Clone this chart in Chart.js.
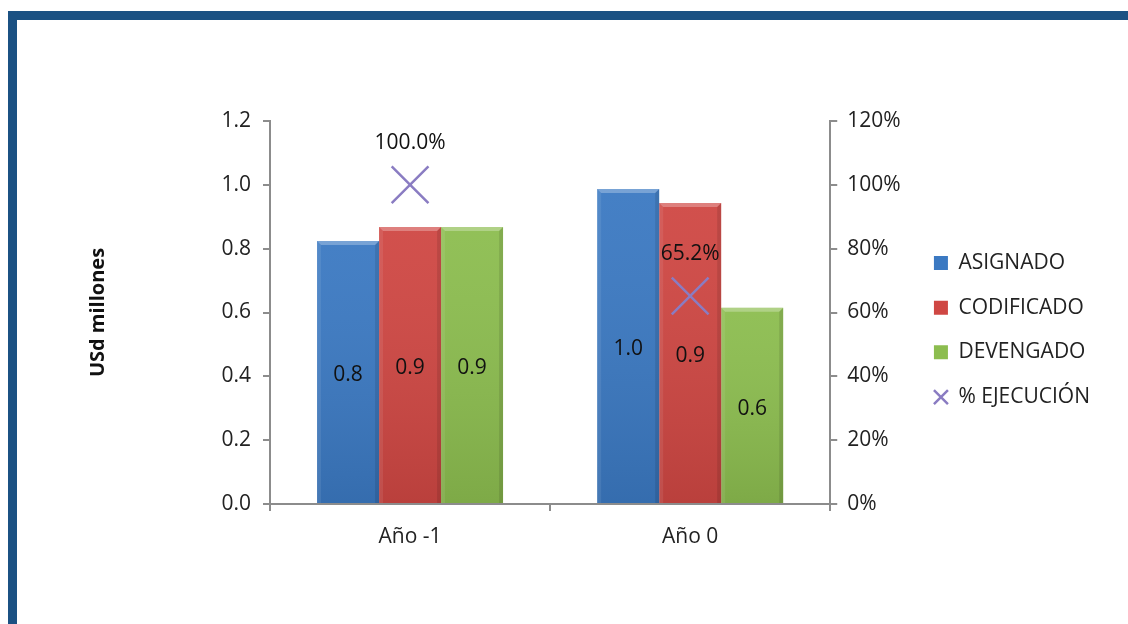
<!DOCTYPE html>
<html>
<head>
<meta charset="utf-8">
<script src="https://cdn.jsdelivr.net/npm/chart.js@4/dist/chart.umd.min.js"></script>
<style>
  html, body { margin: 0; padding: 0; background: #fff; }
  #wrap { position: relative; width: 1128px; height: 624px; overflow: hidden; }
  #frame { position: absolute; left: 8px; top: 11px; width: 1200px; height: 700px;
           border-top: 9px solid #1b5183; border-left: 9px solid #1b5183; }
  #chart0 { position: absolute; left: 0; top: 0; }
</style>
</head>
<body>
<div id="wrap">
  <div id="frame"></div>
  <canvas id="chart0" width="1128" height="624"></canvas>
</div>
<script>
// datos del gráfico
const categorias = ['Año -1', 'Año 0'];
const asignado   = [0.824, 0.987];
const codificado = [0.868, 0.943];
const devengado  = [0.868, 0.615];
const ejecucion  = [1.000, 0.652];   // devengado / codificado
const nombres    = ['ASIGNADO', 'CODIFICADO', 'DEVENGADO', '% EJECUCIÓN'];
const ticksIzq   = [0, 0.2, 0.4, 0.6, 0.8, 1.0, 1.2];

const FUENTE = '"Open Sans", "Liberation Sans", sans-serif';
const TAM = 21;
const GRIS = '#8c8c8c';
const TEXTO = '#222222';

// sombreado tipo bisel sobre cada barra
const bisel = {
  id: 'bisel',
  afterDatasetDraw(chart, args) {
    const meta = args.meta;
    if (meta.type !== 'bar') return;
    const ctx = chart.ctx;
    meta.data.forEach(bar => {
      const { x, y, base, width } = bar.getProps(['x', 'y', 'base', 'width'], true);
      const l = x - width / 2, r = x + width / 2, t = y, b = base, d = 4;
      ctx.save();
      let g = ctx.createLinearGradient(0, t, 0, b);
      g.addColorStop(0, 'rgba(255,255,255,0.05)');
      g.addColorStop(1, 'rgba(0,0,0,0.10)');
      ctx.fillStyle = g;
      ctx.fillRect(l, t, width, b - t);
      // borde superior claro
      ctx.fillStyle = 'rgba(255,255,255,0.28)';
      ctx.beginPath();
      ctx.moveTo(l, t); ctx.lineTo(r, t); ctx.lineTo(r - d, t + d); ctx.lineTo(l + d, t + d);
      ctx.closePath(); ctx.fill();
      // lado izquierdo
      ctx.fillStyle = 'rgba(255,255,255,0.08)';
      ctx.beginPath();
      ctx.moveTo(l, t); ctx.lineTo(l + d, t + d); ctx.lineTo(l + d, b); ctx.lineTo(l, b);
      ctx.closePath(); ctx.fill();
      // lado derecho oscuro
      ctx.fillStyle = 'rgba(0,0,0,0.10)';
      ctx.beginPath();
      ctx.moveTo(r, t); ctx.lineTo(r, b); ctx.lineTo(r - d, b); ctx.lineTo(r - d, t + d);
      ctx.closePath(); ctx.fill();
      ctx.restore();
    });
  }
};

// etiquetas de valores
const etiquetas = {
  id: 'etiquetas',
  afterDatasetsDraw(chart) {
    const ctx = chart.ctx;
    ctx.save();
    ctx.font = TAM + 'px ' + FUENTE;
    ctx.fillStyle = '#111';
    ctx.textAlign = 'center';
    ctx.textBaseline = 'middle';
    chart.data.datasets.forEach((ds, i) => {
      const meta = chart.getDatasetMeta(i);
      meta.data.forEach((el, j) => {
        const v = ds.data[j];
        if (meta.type === 'bar') {
          const { x, y, base } = el.getProps(['x', 'y', 'base'], true);
          ctx.fillText(v.toFixed(1), x, (y + base) / 2 + 3.5);
        } else {
          const { x, y } = el.getProps(['x', 'y'], true);
          ctx.fillText((v * 100).toFixed(1) + '%', x, y - 42);
        }
      });
    });
    ctx.restore();
  }
};

function barras(label, data, color) {
  return {
    label: label,
    data: data,
    backgroundColor: color,
    borderWidth: 0,
    pointStyle: 'rect',
    categoryPercentage: 0.664,
    barPercentage: 1.0,
    yAxisID: 'y',
    order: 1
  };
}

const ctx = document.getElementById('chart0').getContext('2d');
window.myChart = new Chart(ctx, {
  type: 'bar',
  data: {
    labels: categorias,
    datasets: [
      barras(nombres[0], asignado, '#3b79c2'),
      barras(nombres[1], codificado, '#cf4743'),
      barras(nombres[2], devengado, '#8cbd4f'),
      {
        type: 'line',
        label: nombres[3],
        data: ejecucion,
        yAxisID: 'y1',
        showLine: false,
        pointStyle: 'crossRot',
        pointRadius: 26,
        pointHoverRadius: 26,
        borderColor: '#8a7cc2',
        backgroundColor: 'transparent',
        borderWidth: 2.5,
        pointBorderWidth: 2.5,
        order: 0
      }
    ]
  },
  options: {
    responsive: false,
    animation: false,
    devicePixelRatio: 1,
    layout: { padding: { left: 82, top: 121, right: 28, bottom: 60 } },
    plugins: {
      tooltip: { enabled: false },
      legend: {
        position: 'right',
        align: 'center',
        fullSize: false,
        maxWidth: 220,
        // título vacío: solo desplaza los elementos hacia abajo
        title: { display: true, text: '', font: { size: 10, lineHeight: 1.1 }, padding: { top: 12, bottom: 12 } },
        labels: {
          usePointStyle: true,
          boxWidth: 14,
          boxHeight: 14,
          padding: 23.7,
          color: TEXTO,
          font: { family: FUENTE, size: TAM },
          sort: (a, b) => a.datasetIndex - b.datasetIndex
        }
      }
    },
    scales: {
      x: {
        grid: { drawOnChartArea: false, drawTicks: true, tickLength: 7, color: GRIS, lineWidth: 2 },
        border: { color: GRIS, width: 2 },
        ticks: { color: TEXTO, font: { family: FUENTE, size: TAM }, padding: 13 },
        afterFit: s => { s.height = 60; }
      },
      y: {
        position: 'left',
        min: 0,
        max: 1.2,
        afterBuildTicks: s => { s.ticks = ticksIzq.map(v => ({ value: v })); },
        grid: { drawOnChartArea: false, tickLength: 7, color: GRIS, lineWidth: 2 },
        border: { color: GRIS, width: 2 },
        ticks: { color: TEXTO, font: { family: FUENTE, size: TAM }, padding: 12,
                 callback: v => Number(v).toFixed(1) },
        title: { display: true, text: 'USd millones', color: '#111',
                 font: { family: FUENTE, size: 20, weight: 'bold' }, padding: 4 },
        afterFit: s => { s.width = 188; }
      },
      y1: {
        position: 'right',
        min: 0,
        max: 1.2,
        afterBuildTicks: s => { s.ticks = ticksIzq.map(v => ({ value: v })); },
        grid: { drawOnChartArea: false, tickLength: 7, color: GRIS, lineWidth: 2 },
        border: { color: GRIS, width: 2 },
        ticks: { color: TEXTO, font: { family: FUENTE, size: TAM }, padding: 10,
                 callback: v => Math.round(v * 100) + '%' },
        afterFit: s => { s.width = 80; }
      }
    }
  },
  plugins: [bisel, etiquetas]
});
</script>
</body>
</html>
